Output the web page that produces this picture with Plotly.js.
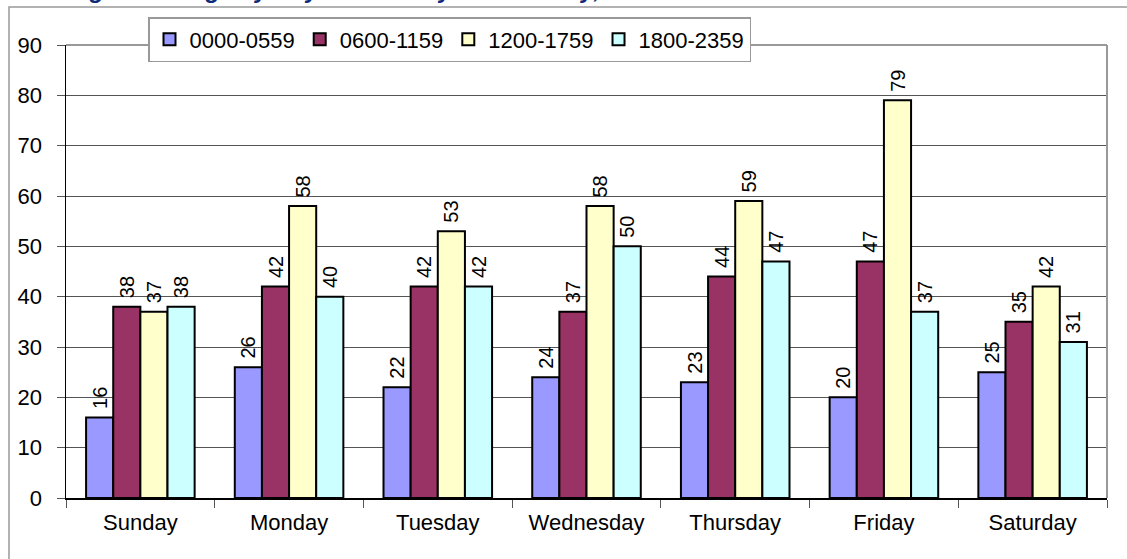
<!DOCTYPE html>
<html>
<head>
<meta charset="utf-8">
<script src="https://cdn.plot.ly/plotly-3.0.1.min.js"></script>
<style>html,body{margin:0;padding:0;background:#fff;}#chart{width:1127px;height:559px;}</style>
</head>
<body>
<div id="chart"></div>
<script>
const days = ["Sunday", "Monday", "Tuesday", "Wednesday", "Thursday", "Friday", "Saturday"];
const seriesNames = ["0000-0559", "0600-1159", "1200-1759", "1800-2359"];
const s0000 = [16, 26, 22, 24, 23, 20, 25];
const s0600 = [38, 42, 42, 37, 44, 47, 35];
const s1200 = [37, 58, 53, 58, 59, 79, 42];
const s1800 = [38, 40, 42, 50, 47, 37, 31];
const yTicks = [0, 10, 20, 30, 40, 50, 60, 70, 80, 90];
const titleText = "Average Bookings by Day of Week by Time of Day, 2008";

const colors = ["#9999FF", "#993366", "#FFFFCC", "#CCFFFF"];
const values = [s0000, s0600, s1200, s1800];

const W = 1127, H = 559;
const mL = 66, mR = 20, mT = 45, mB = 61;
const pw = W - mL - mR, ph = H - mT - mB;
const px = x => (x - mL) / pw;
const py = y => (H - mB - y) / ph;

const traces = values.map((v, i) => ({
  type: "bar",
  name: seriesNames[i],
  x: days,
  y: v,
  marker: { color: colors[i], line: { color: "#000", width: 2 } },
  text: v.map(String),
  texttemplate: "\u00A0%{text}",
  textposition: "outside",
  textangle: -90,
  constraintext: "none",
  cliponaxis: false,
  textfont: { family: "Arial, Liberation Sans, sans-serif", size: 20, color: "#000" },
  hoverinfo: "x+y+name"
}));

const layout = {
  width: W, height: H,
  margin: { l: mL, r: mR, t: mT, b: mB, pad: 0 },
  paper_bgcolor: "#fff", plot_bgcolor: "#fff",
  font: { family: "Arial, Liberation Sans, sans-serif", color: "#000", size: 22 },
  barmode: "group",
  bargap: 0.27,
  bargroupgap: 0,
  showlegend: true,
  legend: {
    orientation: "h",
    x: px(148), y: py(17), xanchor: "left", yanchor: "top",
    bgcolor: "#fff", bordercolor: "#999", borderwidth: 1.5,
    font: { size: 22, color: "#000" },
    traceorder: "normal",
    itemclick: false
  },
  xaxis: {
    type: "category",
    tickson: "boundaries",
    ticks: "outside", ticklen: 8, tickcolor: "#555", tickwidth: 1,
    ticklabelstandoff: 4,
    showline: true, linecolor: "#000", linewidth: 1.5,
    showgrid: false, zeroline: false,
    tickfont: { size: 22 },
    fixedrange: true
  },
  yaxis: {
    range: [0, 90],
    tickvals: yTicks,
    ticktext: yTicks.map(String),
    ticks: "outside", ticklen: 8, tickcolor: "#555", tickwidth: 1,
    ticklabelstandoff: 10,
    showline: true, linecolor: "#000", linewidth: 1.5,
    showgrid: true, gridcolor: "#555", gridwidth: 1,
    zeroline: false,
    tickfont: { size: 22 },
    fixedrange: true
  },
  shapes: [
    { type: "line", xref: "paper", yref: "paper", x0: 0, x1: 1, y0: 1, y1: 1, line: { color: "#999", width: 2 } },
    { type: "line", xref: "paper", yref: "paper", x0: 1, x1: 1, y0: 0, y1: 1, line: { color: "#999", width: 2 } },
    { type: "rect", xref: "paper", yref: "paper", x0: px(9), x1: px(1140), y0: py(7), y1: py(580), line: { color: "#999", width: 1.5 }, fillcolor: "rgba(0,0,0,0)", layer: "below" }
  ],
  annotations: [
    {
      xref: "paper", yref: "paper", x: px(20), y: py(5), xanchor: "left", yanchor: "bottom",
      text: "<b><i>" + titleText + "</i></b>", showarrow: false,
      font: { family: "Arial, Liberation Sans, sans-serif", size: 24, color: "#0D2B7A" }
    }
  ]
};

Plotly.newPlot("chart", traces, layout, { displayModeBar: false, staticPlot: true });
</script>
</body>
</html>
